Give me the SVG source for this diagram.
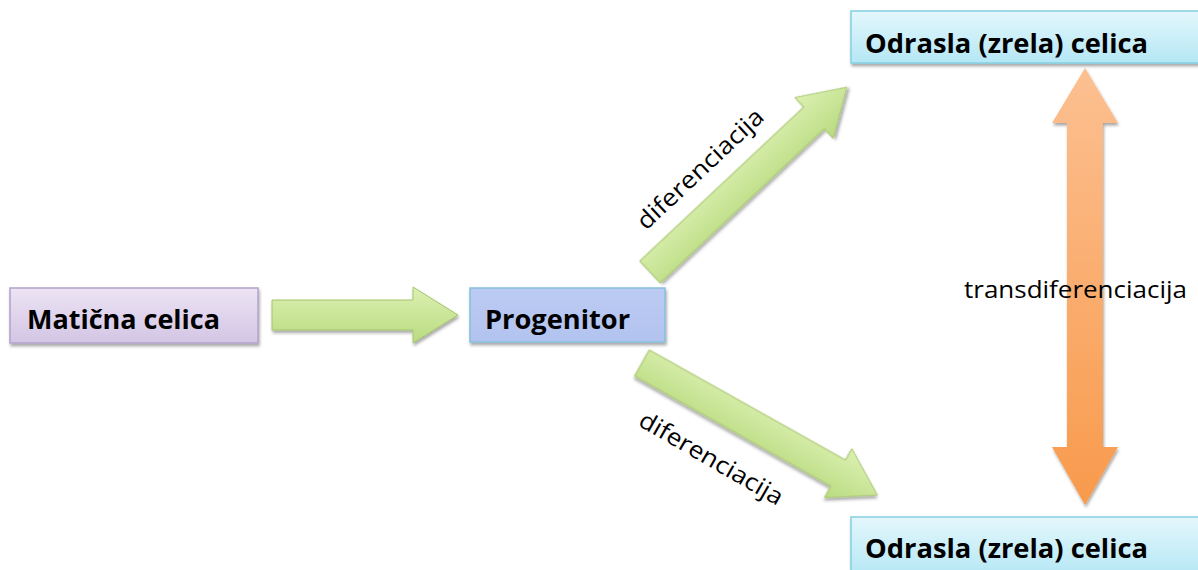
<svg xmlns="http://www.w3.org/2000/svg" width="1198" height="570" viewBox="0 0 1198 570">
  <defs>
    <linearGradient id="gPurple" x1="0" y1="0" x2="0" y2="1">
      <stop offset="0" stop-color="#ece4f4"/>
      <stop offset="1" stop-color="#d3c5e4"/>
    </linearGradient>
    <linearGradient id="gBlue" x1="0" y1="0" x2="0" y2="1">
      <stop offset="0" stop-color="#bccbf3"/>
      <stop offset="1" stop-color="#b2c3ef"/>
    </linearGradient>
    <linearGradient id="gCyan" x1="0" y1="0" x2="0" y2="1">
      <stop offset="0" stop-color="#e4f7fc"/>
      <stop offset="1" stop-color="#b4e7f5"/>
    </linearGradient>
    <linearGradient id="gGreen" x1="0" y1="0" x2="0" y2="1">
      <stop offset="0" stop-color="#dcf0b2"/>
      <stop offset="1" stop-color="#b9db80"/>
    </linearGradient>
    <linearGradient id="gOrange" x1="0" y1="0" x2="0" y2="1">
      <stop offset="0" stop-color="#fcc091"/>
      <stop offset="1" stop-color="#f89a4c"/>
    </linearGradient>
    <filter id="shadow" x="-10%" y="-20%" width="130%" height="160%">
      <feDropShadow dx="1" dy="2.5" stdDeviation="1.8" flood-color="#000" flood-opacity="0.35"/>
    </filter>
    <!-- generic right-pointing block arrow, 270 long -->
    <path id="arrowDiag" d="M0,-15 H225 V-28 L270,0 L225,28 V15 H0 Z"/>
  </defs>
  <style>
    .box-label { font-family: "Open Sans", "Liberation Sans", sans-serif; font-weight: bold; font-size: 27px; fill: #000; }
    .edge-label { font-family: "Open Sans", "Liberation Sans", sans-serif; font-size: 24px; fill: #000; }
    .green { fill: url(#gGreen); stroke: #a5c46a; stroke-width: 1; filter: url(#shadow); }
  </style>

  <rect width="1198" height="570" fill="#ffffff"/>

  <g id="connectors">
    <!-- Matična celica -> Progenitor -->
    <path class="green" d="M272,300 H413 V287 L458,315 L413,343 V330 H272 Z"/>
    <!-- Progenitor -> upper mature cell -->
    <use href="#arrowDiag" class="green" transform="translate(650,272) rotate(-43.2)"/>
    <!-- Progenitor -> lower mature cell -->
    <use href="#arrowDiag" class="green" transform="translate(642,363) rotate(29.3)"/>
    <!-- transdifferentiation double arrow -->
    <path d="M1085,68 L1118,123 H1103 V447 H1118 L1085,505 L1052,447 H1067 V123 H1052 Z" fill="url(#gOrange)" filter="url(#shadow)"/>
    <text class="edge-label" transform="translate(646,231) rotate(-43.2)" textLength="164" lengthAdjust="spacingAndGlyphs">diferenciacija</text>
    <text class="edge-label" transform="translate(637,425) rotate(30)" textLength="162" lengthAdjust="spacingAndGlyphs">diferenciacija</text>
    <text class="edge-label" x="964" y="298" textLength="223" lengthAdjust="spacingAndGlyphs">transdiferenciacija</text>
  </g>

  <g id="maticna-celica">
    <rect x="10" y="288" width="248" height="55" fill="url(#gPurple)" stroke="#b3a3c9" stroke-width="1.5" filter="url(#shadow)"/>
    <text class="box-label" x="27" y="329" textLength="193" lengthAdjust="spacingAndGlyphs">Matična celica</text>
  </g>

  <g id="progenitor">
    <rect x="470" y="288" width="195" height="54" fill="url(#gBlue)" stroke="#86bfdc" stroke-width="1.5" filter="url(#shadow)"/>
    <text class="box-label" x="485" y="329" textLength="145" lengthAdjust="spacingAndGlyphs">Progenitor</text>
  </g>

  <g id="odrasla-zgoraj">
    <rect x="851" y="11" width="360" height="52" fill="url(#gCyan)" stroke="#82cfe2" stroke-width="1.5" filter="url(#shadow)"/>
    <text class="box-label" x="865" y="53" textLength="283" lengthAdjust="spacingAndGlyphs">Odrasla (zrela) celica</text>
  </g>

  <g id="odrasla-spodaj">
    <rect x="851" y="517" width="360" height="60" fill="url(#gCyan)" stroke="#82cfe2" stroke-width="1.5" filter="url(#shadow)"/>
    <text class="box-label" x="865" y="558" textLength="283" lengthAdjust="spacingAndGlyphs">Odrasla (zrela) celica</text>
  </g>
</svg>
